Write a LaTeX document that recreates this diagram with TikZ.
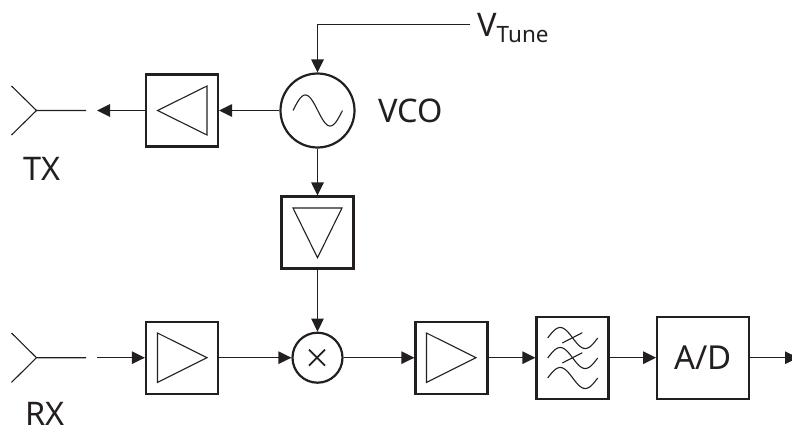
\documentclass[tikz,border=0pt]{standalone}
\usepackage{fontspec}
\setmainfont{Noto Sans}
\usetikzlibrary{arrows.meta}
\definecolor{ink}{HTML}{231F20}
\tikzset{
  x=1pt,y=-1pt,
  every path/.style={color=ink},
  thin line/.style={line width=1.3pt,draw=ink},
  fine/.style={line width=1.1pt,draw=ink,line join=miter},
  block/.style={draw=ink,line width=2.2pt,inner sep=0pt,rectangle,minimum width=72pt,minimum height=72pt},
  wideblock/.style={block,minimum height=82pt},
  round/.style={draw=ink,line width=2.2pt,inner sep=0pt,circle},
  conn/.style={thin line,-{Triangle[length=13pt,width=12.5pt]}},
  lbl/.style={inner sep=0pt,anchor=base west,text=ink,font=\fontsize{32.5}{32.5}\selectfont},
}
\begin{document}
\begin{tikzpicture}
\useasboundingbox (0,0) rectangle (792,431);
% blocks
\node[block] (txamp) at (182,110.5) {};
\node[round,minimum size=74pt] (vco) at (317.5,110.5) {};
\node[block] (loamp) at (317.5,232.5) {};
\node[block] (rxamp) at (182,357.7) {};
\node[round,minimum size=50pt] (mix) at (317.5,357.7) {};
\node[block] (ifamp) at (451.5,357.7) {};
\node[wideblock] (filt) at (572.5,357.7) {};
\node[wideblock,minimum width=92pt] (adc) at (703.2,357.7) {\fontsize{33}{33}\selectfont A/D};
% amplifier triangles
\draw[fine] (157.5,110.5) -- (207,86) -- (207,135) -- cycle;
\draw[fine] (293,208) -- (342,208) -- (317.5,257.7) -- cycle;
\draw[fine] (157.5,333) -- (207,357.7) -- (157.5,382.4) -- cycle;
\draw[fine] (426.5,333) -- (476,357.7) -- (426.5,382.4) -- cycle;
% vco sine
\draw[fine,smooth] plot[domain=0:1,samples=50] ({293+49.5*\x},{110.5-15.5*sin(\x*360)});
% mixer cross
\draw[line width=1.8pt,draw=ink] (309,349.7) -- (325,365.7) (309,365.7) -- (325,349.7);
% filter
\foreach \yy in {338,358,378}{
  \draw[fine,smooth] plot[domain=0:1,samples=50] ({547.7+50*\x},{\yy-10.5*sin(\x*360)});
}
\draw[fine] (562.3,343) -- (582.3,332.7) (562.3,363) -- (582.3,352.7);
% antennas
\coordinate (txant) at (36.5,110.5);
\coordinate (txanta) at (11.5,86);
\coordinate (txantb) at (11.5,135);
\coordinate (txend) at (86,110.5);
\coordinate (txgap) at (97,110.5);
\coordinate (rxant) at (36.5,357.7);
\coordinate (rxanta) at (11.5,333);
\coordinate (rxantb) at (11.5,382.4);
\coordinate (rxend) at (86,357.7);
\coordinate (rxgap) at (97,357.7);
\coordinate (tunecorner) at (317.5,24.5);
\coordinate (tuneend) at (470,24.5);
\coordinate (out) at (798,357.7);
\draw[fine] (txanta) -- (txant) -- (txantb) (txant) -- (txend);
\draw[fine] (rxanta) -- (rxant) -- (rxantb) (rxant) -- (rxend);
% connectors
\draw[conn] (tuneend) -- (tunecorner) -- (vco.north);
\draw[conn] (vco.west) -- (txamp.east);
\draw[conn] (txamp.west) -- (txgap);
\draw[conn] (vco.south) -- (loamp.north);
\draw[conn] (loamp.south) -- (mix.north);
\draw[conn] (rxgap) -- (rxamp.west);
\draw[conn] (rxamp.east) -- (mix.west);
\draw[conn] (mix.east) -- (ifamp.west);
\draw[conn] (ifamp.east) -- (filt.west);
\draw[conn] (filt.east) -- (adc.west);
\draw[conn] (adc.east) -- (out);
% labels
\node[lbl] (vtune) at (477,36) {V\raisebox{-6pt}{\fontsize{22.5}{22.5}\selectfont Tune}};
\node[lbl] (vcol) at (378,122) {VCO};
\node[lbl] (txl) at (23,180) {TX};
\node[lbl] (rxl) at (25,425) {RX};
\end{tikzpicture}
\end{document}
